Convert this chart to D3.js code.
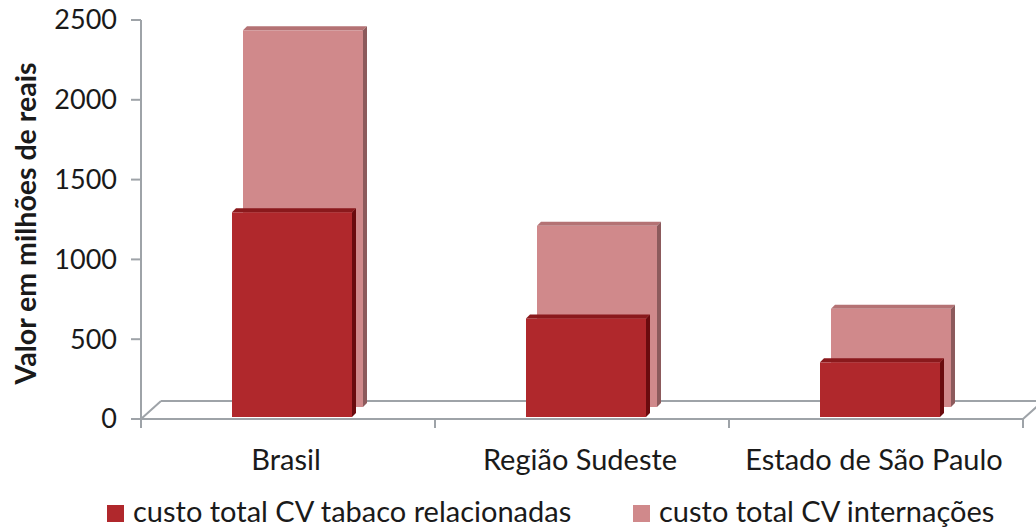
<!DOCTYPE html>
<html>
<head>
<meta charset="utf-8">
<script src="https://cdn.jsdelivr.net/npm/d3@7"></script>
<style>
  body { margin: 0; background: #fff; }
  svg { display: block; font-family: Lato, "Open Sans", sans-serif; }
</style>
</head>
<body>
<svg id="chart" width="1036" height="528"></svg>
<script>
// Data
const categories = ['Brasil', 'Região Sudeste', 'Estado de São Paulo'];
const tabacoValues = [1295, 630, 355];        // custo total CV tabaco relacionadas
const internacoesValues = [2360, 1135, 615];  // custo total CV internações
const yTicks = [0, 500, 1000, 1500, 2000, 2500];
const seriesNames = ['custo total CV tabaco relacionadas', 'custo total CV internações'];

const COLORS = {
  dark: { front: '#b0282c', top: '#8a191c', side: '#6a0b0e' },
  light: { front: '#d0898b', top: '#b47274', side: '#8c5a5c' },
  axis: '#9ea3a8',
  text: '#1a1a1a'
};

const svg = d3.select('#chart');

const x0 = 141, x1 = 1023;
const y = d3.scaleLinear().domain([0, 2500]).range([419, 20]);
const x = d3.scalePoint().domain(categories).range([x0, x1]).padding(0.5);
const step = x.step();

// Floor depth
const depth = { dx: 20, dy: -18 };
const backOffset = { dx: 11, dy: -12 };
const barW = 120;
const face = 4; // 3D edge thickness

// Floor
const floor = svg.append('g')
  .attr('stroke', COLORS.axis)
  .attr('stroke-width', 2)
  .attr('fill', 'none');
floor.append('line')
  .attr('x1', x0 + depth.dx).attr('y1', y(0) + depth.dy)
  .attr('x2', 1050).attr('y2', y(0) + depth.dy);
floor.append('line')
  .attr('x1', x0).attr('y1', y(0))
  .attr('x2', x0 + depth.dx).attr('y2', y(0) + depth.dy);
floor.append('line')
  .attr('x1', x1).attr('y1', y(0))
  .attr('x2', x1 + depth.dx).attr('y2', y(0) + depth.dy);
floor.append('line')
  .attr('x1', x0).attr('y1', y(0))
  .attr('x2', x1).attr('y2', y(0));

// Category tick marks
floor.selectAll('line.ctick')
  .data(d3.range(1, categories.length + 1))
  .join('line')
  .attr('class', 'ctick')
  .attr('x1', i => x0 + i * step).attr('x2', i => x0 + i * step)
  .attr('y1', y(0)).attr('y2', y(0) + 9);

// Y axis
const yAxis = svg.append('g').attr('transform', `translate(${x0},0)`);
yAxis.append('line')
  .attr('x1', 0).attr('x2', 0)
  .attr('y1', y(2500)).attr('y2', y(0) + 9)
  .attr('stroke', COLORS.axis).attr('stroke-width', 2);
yAxis.selectAll('line.tick')
  .data(yTicks)
  .join('line')
  .attr('class', 'tick')
  .attr('x1', -10).attr('x2', 0)
  .attr('y1', d => y(d)).attr('y2', d => y(d))
  .attr('stroke', COLORS.axis).attr('stroke-width', 2);
yAxis.selectAll('text')
  .data(yTicks)
  .join('text')
  .attr('x', -24)
  .attr('y', d => y(d))
  .attr('dy', '0.35em')
  .attr('text-anchor', 'end')
  .attr('font-size', 27)
  .attr('fill', COLORS.text)
  .text(d => d);

svg.append('text')
  .attr('transform', `translate(36,${(y(0) + y(2500)) / 2 + 4}) rotate(-90)`)
  .attr('text-anchor', 'middle')
  .attr('font-size', 28.5)
  .attr('font-weight', 'bold')
  .attr('fill', COLORS.text)
  .text('Valor em milhões de reais');

// 3D column helper
function column(g, left, base, top, c) {
  const bottom = base;
  g.append('rect')
    .attr('x', left).attr('y', top)
    .attr('width', barW).attr('height', bottom - top)
    .attr('fill', c.front);
  // top face
  g.append('path')
    .attr('d', `M${left},${top} L${left + face},${top - face} L${left + barW + face},${top - face} L${left + barW},${top} Z`)
    .attr('fill', c.top);
  // side face
  g.append('path')
    .attr('d', `M${left + barW},${top} L${left + barW + face},${top - face} L${left + barW + face},${bottom - face} L${left + barW},${bottom} Z`)
    .attr('fill', c.side);
}

// Back series (internações)
const back = svg.append('g');
categories.forEach((cat, i) => {
  const left = x(cat) - 56 + backOffset.dx;
  const base = y(0) + backOffset.dy;
  const top = base - (y(0) - y(internacoesValues[i]));
  column(back, left, base, top, COLORS.light);
});

// Front series (tabaco relacionadas)
const front = svg.append('g');
categories.forEach((cat, i) => {
  const left = x(cat) - 56;
  const base = y(0) - 2;
  const top = y(tabacoValues[i]);
  column(front, left, base, top, COLORS.dark);
});

// Category labels
svg.append('g').selectAll('text')
  .data(categories)
  .join('text')
  .attr('x', d => x(d) - 2)
  .attr('y', 470)
  .attr('text-anchor', 'middle')
  .attr('font-size', 29)
  .attr('fill', COLORS.text)
  .text(d => d);

// Legend
const legendX = [107, 633];
const legendColors = [COLORS.dark.front, COLORS.light.front];
const legend = svg.append('g');
seriesNames.forEach((name, i) => {
  legend.append('rect')
    .attr('x', legendX[i]).attr('y', 505)
    .attr('width', 17).attr('height', 17)
    .attr('fill', legendColors[i]);
  legend.append('text')
    .attr('x', legendX[i] + 26).attr('y', 522)
    .attr('font-size', 29)
    .attr('fill', COLORS.text)
    .text(name);
});
</script>
</body>
</html>
